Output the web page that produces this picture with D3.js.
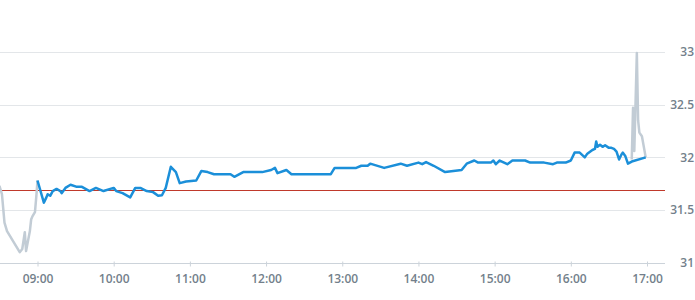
<!DOCTYPE html>
<html>
<head>
<meta charset="utf-8">
<script src="https://cdnjs.cloudflare.com/ajax/libs/d3/7.8.5/d3.min.js"></script>
<style>
  body { margin: 0; background: #fff; }
  svg { display: block; font-family: "Open Sans", sans-serif; }
  .lbl { font-size: 12px; font-weight: 600; fill: #737f8b; }
</style>
</head>
<body>
<div id="chart"></div>
<script>
// chart size
let width = 695,
	height = 300;

// value axis
let yTicks = [31, 31.5, 32, 32.5, 33];
let refLevel = 31.69;

// time axis
let xTicks = ["09:00","10:00","11:00","12:00","13:00","14:00","15:00","16:00","17:00"];

// pre market (grey)
let preTimes = ["08:30","08:32","08:34","08:36","08:46","08:48","08:50","08:51","08:54","08:55","08:56","08:58","08:59","09:00"];
let preValues = [31.73,31.65,31.38,31.30,31.10,31.13,31.29,31.11,31.30,31.41,31.44,31.48,31.62,31.78];

// after hours (grey)
let postTimes = ["16:48","16:49","16:50","16:52","16:53","16:54","16:56","16:59"];
let postValues = [31.98,32.47,32.06,32.99,32.35,32.235,32.20,32.0];

// trading session (blue)
let dayTimes = ["09:00","09:05","09:07","09:08","09:10","09:12","09:15","09:18","09:19","09:22",
	"09:26","09:31","09:35","09:41","09:46","09:52","10:00","10:02","10:07","10:13",
	"10:17","10:21","10:26","10:31","10:35","10:38","10:41","10:45","10:49","10:52",
	"10:57","11:05","11:09","11:14","11:19","11:32","11:35","11:42","11:57","12:04",
	"12:07","12:09","12:16","12:20","12:51","12:54","13:11","13:15","13:20","13:22",
	"13:33","13:46","13:51","14:00","14:03","14:06","14:12","14:21","14:34","14:38",
	"14:44","14:47","14:57","14:59","15:01","15:04","15:10","15:14","15:24","15:28",
	"15:39","15:46","15:49","15:56","16:00","16:03","16:07","16:11","16:13","16:17",
	"16:19","16:20","16:21","16:23","16:25","16:27","16:30","16:32","16:34","16:36",
	"16:38","16:40","16:41","16:43","16:45","16:48","16:59"];
let dayValues = [31.78,31.57,31.62,31.65,31.635,31.68,31.70,31.68,31.66,31.71,
	31.74,31.72,31.72,31.68,31.71,31.68,31.71,31.68,31.66,31.62,
	31.71,31.71,31.68,31.67,31.635,31.64,31.71,31.91,31.86,31.755,
	31.77,31.78,31.87,31.86,31.84,31.84,31.815,31.86,31.86,31.88,
	31.90,31.85,31.88,31.84,31.84,31.90,31.90,31.92,31.92,31.94,
	31.90,31.94,31.92,31.95,31.935,31.955,31.92,31.86,31.88,31.94,
	31.97,31.95,31.95,31.97,31.935,31.97,31.935,31.97,31.97,31.95,
	31.95,31.935,31.95,31.95,31.97,32.045,32.045,32.0,32.035,32.07,
	32.08,32.15,32.10,32.12,32.10,32.115,32.09,32.09,32.08,32.055,
	31.98,32.03,32.045,32.01,31.94,31.96,32.0];

let parseTime = d3.timeParse("%H:%M");
let zip = (ts, vs) => ts.map((t, i) => ({ t: parseTime(t), v: vs[i] }));
let pre = zip(preTimes, preValues);
let post = zip(postTimes, postValues);
let day = zip(dayTimes, dayValues);

let plotRight = 665;

let svg = d3.select("#chart").append("svg")
	.attr("width", width)
	.attr("height", height);

let x = d3.scaleTime()
	.domain([parseTime("09:00"), parseTime("17:00")])
	.range([37.5, 647]);

let y = d3.scaleLinear()
	.domain([31, 33])
	.range([262.7, 52]);

// horizontal grid
svg.append("g")
	.selectAll("line")
	.data(yTicks.slice(1))
	.enter()
	.append("line")
	.attr("x1", 0)
	.attr("x2", plotRight)
	.attr("y1", d => Math.round(y(d)) + 0.5)
	.attr("y2", d => Math.round(y(d)) + 0.5)
	.attr("stroke", "#e3e6e9")
	.attr("stroke-width", 1);

// x axis
let xaxis = d3.axisBottom(x)
	.tickValues(xTicks.map(parseTime))
	.tickFormat(d3.timeFormat("%H:%M"))
	.tickSize(5)
	.tickSizeOuter(0)
	.tickPadding(5);

let gx = svg.append("g")
	.attr("transform", "translate(0," + (Math.round(y(31)) - 1.5) + ")")
	.call(xaxis);
gx.select(".domain").remove();
gx.selectAll(".tick line").attr("stroke", "#ccd3da");
gx.selectAll(".tick text")
	.attr("class", "lbl")
	.style("font-family", "'Open Sans', sans-serif")
	.attr("dy", "0.95em");

svg.append("line")
	.attr("x1", 0)
	.attr("x2", plotRight)
	.attr("y1", Math.round(y(31)) + 0.5)
	.attr("y2", Math.round(y(31)) + 0.5)
	.attr("stroke", "#ccd3da");

// y labels on the right
svg.append("g")
	.selectAll("text")
	.data(yTicks)
	.enter()
	.append("text")
	.attr("class", "lbl")
	.attr("x", 694)
	.attr("y", d => y(d))
	.attr("dy", "0.35em")
	.attr("text-anchor", "end")
	.text(d => d);

// reference line
svg.append("line")
	.attr("x1", 0)
	.attr("x2", plotRight)
	.attr("y1", Math.round(y(refLevel)) + 0.5)
	.attr("y2", Math.round(y(refLevel)) + 0.5)
	.attr("stroke", "#c0392b")
	.attr("stroke-width", 1);

let line = d3.line()
	.x(d => x(d.t))
	.y(d => y(d.v));

svg.append("path")
	.datum(pre)
	.attr("fill", "none")
	.attr("stroke", "#c2ccd5")
	.attr("stroke-width", 2.5)
	.attr("stroke-linejoin", "round")
	.attr("d", line);

svg.append("path")
	.datum(post)
	.attr("fill", "none")
	.attr("stroke", "#c2ccd5")
	.attr("stroke-width", 2.5)
	.attr("stroke-linejoin", "round")
	.attr("d", line);

svg.append("path")
	.datum(day)
	.attr("fill", "none")
	.attr("stroke", "#1b8fd9")
	.attr("stroke-width", 2.5)
	.attr("stroke-linejoin", "round")
	.attr("d", line);
</script>
</body>
</html>
